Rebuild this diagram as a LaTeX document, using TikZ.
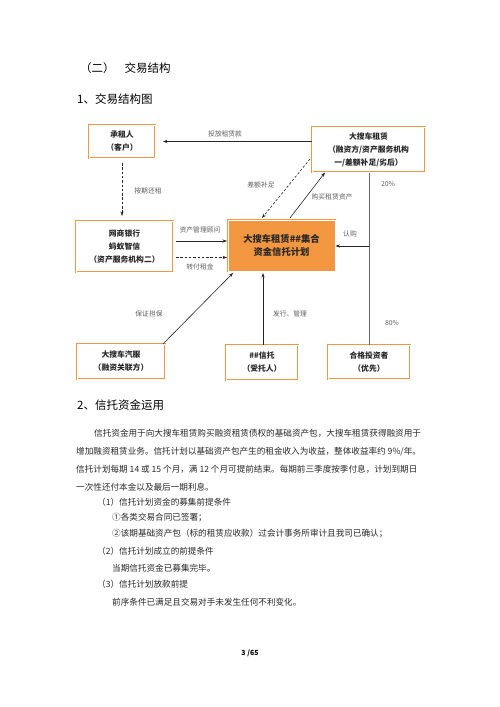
\documentclass[tikz,border=0pt]{standalone}
\usepackage{fontspec}
\setmainfont{Noto Sans CJK SC}
\usetikzlibrary{arrows.meta}
\definecolor{bor}{RGB}{240,152,72}
\definecolor{fillc}{RGB}{242,150,64}
\definecolor{lab}{RGB}{95,95,95}
\definecolor{txt}{RGB}{40,40,40}
\begin{document}
\begin{tikzpicture}[x=1pt,y=-1pt,
  box/.style={draw=bor, double=white, double distance=0.8pt, line width=1pt, align=center, inner sep=0pt, text=txt,
    font=\fontsize{7.8}{13}\selectfont\bfseries},
  lbl/.style={text=lab, font=\fontsize{6.8}{8}\selectfont, inner sep=0pt},
  arr/.style={-{Stealth[length=4.5pt,width=3.2pt]}, line width=0.6pt, draw=black!85},
  darr/.style={arr, dash pattern=on 2.5pt off 1.8pt},
  body/.style={anchor=west, inner sep=0pt, text=txt, font=\fontsize{8.6}{10}\selectfont},
  head/.style={anchor=west, inner sep=0pt, text=black, font=\fontsize{11.5}{13}\selectfont}
]
\useasboundingbox (0,0) rectangle (500,707);
\fill[white] (0,0) rectangle (500,707);

% headings
\node[head] (h1) at (80,68) {（二）\hspace{10pt}交易结构};
\node[head] (h2) at (77,99) {1、交易结构图};

% boxes
\node[box, minimum width=66pt, minimum height=33pt] (cz) at (122,141.5) {承租人\\（客户）};
\node[box, minimum width=113pt, minimum height=45pt] (ds) at (368.5,149.5) {大搜车租赁\\（融资方/资产服务机构\\一/差额补足/劣后）};
\node[box, minimum width=97pt, minimum height=51pt] (ws) at (124.5,246.5) {网商银行\\蚂蚁智信\\（资产服务机构二）};
\node[box, fill=fillc, minimum width=107pt, minimum height=51pt, font=\fontsize{9.3}{13}\selectfont\bfseries] (ct) at (281.5,245.5) {大搜车租赁\#\#集合\\资金信托计划};
\node[box, minimum width=88pt, minimum height=35pt] (qf) at (121,361.5) {大搜车汽服\\（融资关联方）};
\node[box, minimum width=72pt, minimum height=35pt] (xt) at (262,362.5) {\#\#信托\\（受托人）};
\node[box, minimum width=82pt, minimum height=34pt] (hg) at (369,362) {合格投资者\\（优先）};

% coordinates
\coordinate (a1) at (312,141.5);
\coordinate (a2) at (163,141.5);
\coordinate (b1) at (122,163);
\coordinate (b2) at (122,216);
\coordinate (c1) at (176,241);
\coordinate (c2) at (227,241);
\coordinate (d1) at (176,257.5);
\coordinate (d2) at (227,257.5);
\coordinate (e1) at (310,159);
\coordinate (e2) at (262,218);
\coordinate (f1) at (290,218);
\coordinate (f2) at (325,172.5);
\coordinate (g1) at (163,344);
\coordinate (g2) at (233,273);
\coordinate (k1) at (263,344.5);
\coordinate (k2) at (263,273);
\coordinate (v1) at (369,172.5);
\coordinate (v2) at (369,344.5);
\coordinate (vm) at (369,246);
\coordinate (vt) at (335.5,246);

% connectors
\draw[arr] (a1) -- (a2);
\draw[darr] (b1) -- (b2);
\draw[arr] (c1) -- (c2);
\draw[darr] (d1) -- (d2);
\draw[darr] (e1) -- (e2);
\draw[arr] (f1) -- (f2);
\draw[arr] (g1) -- (g2);
\draw[arr] (k1) -- (k2);
\draw[line width=1pt, draw=black!60] (v1) -- (v2);
\draw[arr] (vm) -- (vt);

% labels
\node[lbl] (l1) at (225,134) {投放租赁款};
\node[lbl] (l2) at (148,191) {按期还租};
\node[lbl] (l3) at (261,185) {差额补足};
\node[lbl] (l4) at (332,196.5) {购买租赁资产};
\node[lbl] (l5) at (200,230) {资产管理顾问};
\node[lbl] (l6) at (200,266.5) {转付租金};
\node[lbl] (l7) at (149,314) {保证担保};
\node[lbl] (l8) at (290,314) {发行、管理};
\node[lbl] (l9) at (350,233.5) {认购};
\node[lbl] (l10) at (388,184.5) {20\%};
\node[lbl] (l11) at (392,323.5) {80\%};

% section 2
\node[head] (h3) at (77,405) {2、信托资金运用};
\node[body] (p1) at (94,433.5) {信托资金用于向大搜车租赁购买融资租赁债权的基础资产包，大搜车租赁获得融资用于};
\node[body] (p2) at (76,451.5) {增加融资租赁业务。信托计划以基础资产包产生的租金收入为收益，整体收益率约 9\%/年。};
\node[body] (p3) at (76,469.5) {信托计划每期 14 或 15 个月，满 12 个月可提前结束。每期前三季度按季付息，计划到期日};
\node[body] (p4) at (76,487.5) {一次性还付本金以及最后一期利息。};
\node[body] (q1) at (97,502) {（1）信托计划资金的募集前提条件};
\node[body] (q2) at (112,518) {①各类交易合同已签署；};
\node[body] (q3) at (112,534) {②该期基础资产包（标的租赁应收款）过会计事务所审计且我司已确认；};
\node[body] (q4) at (97,551) {（2）信托计划成立的前提条件};
\node[body] (q5) at (112,568) {当期信托资金已募集完毕。};
\node[body] (q6) at (97,584.5) {（3）信托计划放款前提};
\node[body] (q7) at (112,602.5) {前序条件已满足且交易对手未发生任何不利变化。};

\node[inner sep=0pt, font=\fontsize{7}{8}\selectfont\bfseries] (pg) at (250,653) {3 /65};
\end{tikzpicture}
\end{document}
